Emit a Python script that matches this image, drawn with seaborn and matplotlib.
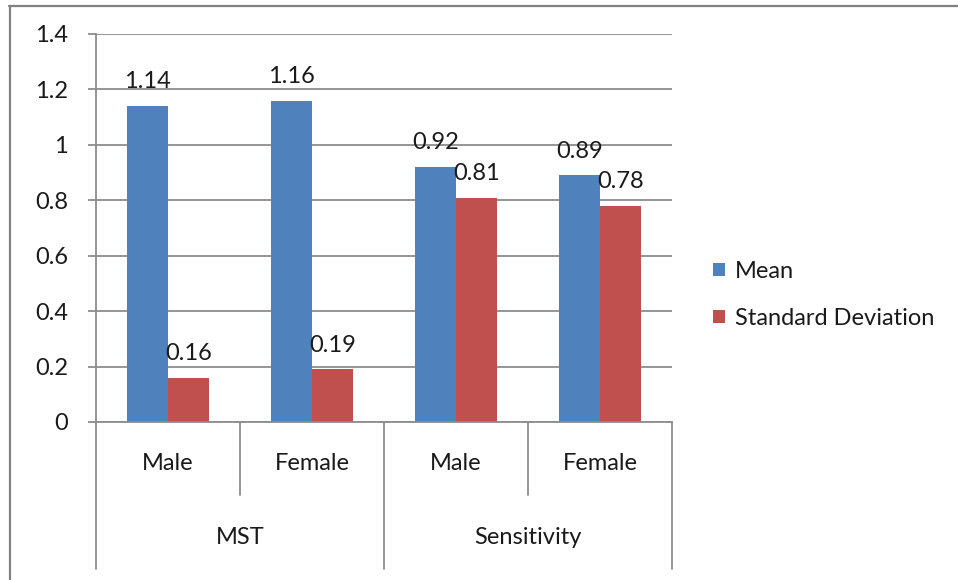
import matplotlib
matplotlib.use("Agg")
import matplotlib.pyplot as plt
import matplotlib.transforms as mtransforms
from matplotlib.lines import Line2D
from matplotlib.patches import Patch
import seaborn as sns
import pandas as pd

# Chart data
groups = ["MST", "MST", "Sensitivity", "Sensitivity"]
genders = ["Male", "Female", "Male", "Female"]
mean_values = [1.14, 1.16, 0.92, 0.89]
sd_values = [0.16, 0.19, 0.81, 0.78]
series_names = ["Mean", "Standard Deviation"]
y_ticks = [0, 0.2, 0.4, 0.6, 0.8, 1.0, 1.2, 1.4]

colors = ["#4F81BD", "#C0504D"]
grid_color = "#8C8C8C"
text_color = "#1A1A1A"

sns.set_theme(style="white")
plt.rcParams["font.family"] = ["Lato", "DejaVu Sans"]
FS = 17

keys = [f"{g} {s}" for g, s in zip(groups, genders)]
df = pd.DataFrame({
    "key": keys * 2,
    "value": mean_values + sd_values,
    "series": [series_names[0]] * 4 + [series_names[1]] * 4,
})

W, H = 958, 580
fig = plt.figure(figsize=(W / 100, H / 100), dpi=100)
fig.patch.set_facecolor("white")

ax = fig.add_axes([96 / W, 1 - 422 / H, 576 / W, 388 / H])
sns.barplot(data=df, x="key", y="value", hue="series", order=keys,
            hue_order=series_names, palette=colors, width=0.57,
            saturation=1, ax=ax, legend=False, errorbar=None, linewidth=0)

ax.set_xlim(-0.5, len(keys) - 0.5)
ax.set_ylim(0, 1.4)
ax.set_yticks(y_ticks)
ax.set_yticklabels([f"{v:g}" for v in y_ticks], fontsize=FS, color=text_color)
ax.tick_params(axis="y", length=6, width=1.3, color=grid_color, pad=14, left=True)
ax.set_xticks([])
ax.set_xlabel("")
ax.set_ylabel("")
ax.yaxis.grid(True, color=grid_color, linewidth=1.3)
ax.set_axisbelow(True)
for side in ["top", "right"]:
    ax.spines[side].set_visible(False)
for side in ["left", "bottom"]:
    ax.spines[side].set_color(grid_color)
    ax.spines[side].set_linewidth(1.3)

# Value labels above each bar
for container in ax.containers:
    for bar in container:
        h = bar.get_height()
        ax.annotate(f"{h:g}", (bar.get_x() + bar.get_width() / 2, h),
                    xytext=(0, 17.5), textcoords="offset points",
                    ha="center", va="center", fontsize=FS, color=text_color)

# Two-level category axis
trans = mtransforms.blended_transform_factory(ax.transData, ax.transAxes)
inner_y = -(495 - 422) / 388
outer_y = -(569 - 422) / 388
for x in [0.5, 2.5]:
    ax.add_line(Line2D([x, x], [0, inner_y], transform=trans, color=grid_color,
                       lw=1.3, clip_on=False))
for x in [-0.5, 1.5, 3.5]:
    ax.add_line(Line2D([x, x], [0, outer_y], transform=trans, color=grid_color,
                       lw=1.3, clip_on=False))
for i, g in enumerate(genders):
    ax.text(i, -(463 - 422) / 388, g, transform=trans, ha="center", va="center",
            fontsize=FS, color=text_color)
for name, pos in [("MST", 0.5), ("Sensitivity", 2.5)]:
    ax.text(pos, -(538 - 422) / 388, name, transform=trans, ha="center",
            va="center", fontsize=FS, color=text_color)

# Legend
handles = [Patch(facecolor=c, edgecolor="none") for c in colors]
fig.legend(handles, series_names, loc="center left",
           bbox_to_anchor=(713 / W, 1 - 295 / H), frameon=False,
           fontsize=FS, handlelength=0.5, handleheight=0.5,
           handletextpad=0.42, labelspacing=1.1, borderpad=0,
           borderaxespad=0, labelcolor=text_color)

# Outer chart frame
fig.add_artist(Line2D([9 / W, 1], [1 - 6 / H, 1 - 6 / H], transform=fig.transFigure,
                      color="#808080", lw=1.6))
fig.add_artist(Line2D([10 / W, 10 / W], [0, 1 - 6 / H], transform=fig.transFigure,
                      color="#808080", lw=1.6))

fig.savefig("out.png", dpi=100, facecolor="white")
